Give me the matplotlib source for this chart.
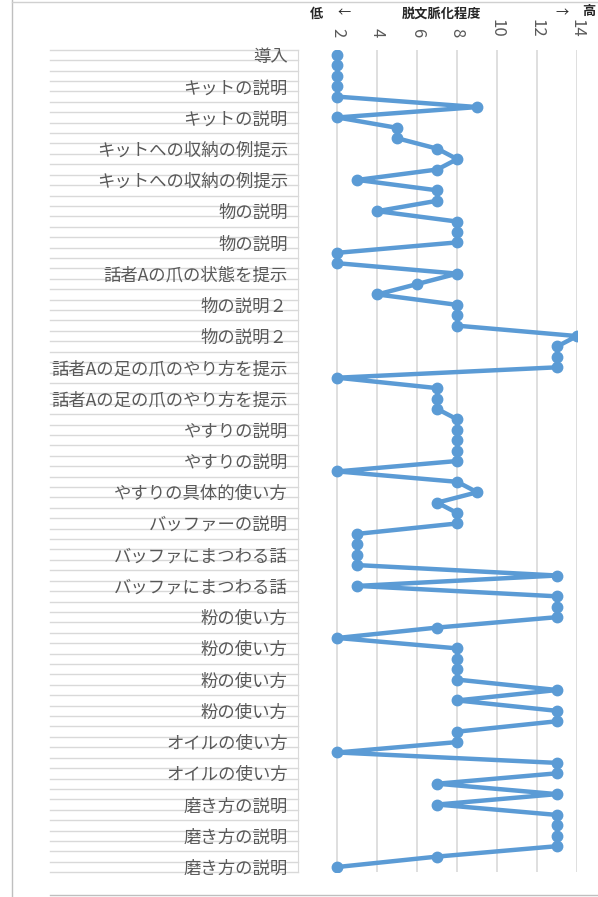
import numpy as np
import matplotlib
matplotlib.use('Agg')
import matplotlib.pyplot as plt
from matplotlib.lines import Line2D

plt.rcParams['font.family'] = ['Noto Sans CJK JP', 'DejaVu Sans']

# 脱文脈化程度 for each utterance (top to bottom)
values = [2, 2, 2, 2, 2, 9, 2, 5, 5, 7,
          8, 7, 3, 7, 7, 4, 8, 8, 8, 2,
          2, 8, 6, 4, 8, 8, 8, 14, 13, 13,
          13, 2, 7, 7, 7, 8, 8, 8, 8, 8,
          2, 8, 9, 7, 8, 8, 3, 3, 3, 3,
          13, 3, 13, 13, 13, 7, 2, 8, 8, 8,
          8, 13, 8, 13, 13, 8, 8, 2, 13, 13,
          7, 13, 7, 13, 13, 13, 13, 7, 2]

# category labels, shown on every 3rd utterance
labels = ['導入', 'キットの説明', 'キットの説明', 'キットへの収納の例提示',
          'キットへの収納の例提示', '物の説明', '物の説明', '話者Aの爪の状態を提示',
          '物の説明２', '物の説明２', '話者Aの足の爪のやり方を提示',
          '話者Aの足の爪のやり方を提示', 'やすりの説明', 'やすりの説明',
          'やすりの具体的使い方', 'バッファーの説明', 'バッファにまつわる話',
          'バッファにまつわる話', '粉の使い方', '粉の使い方', '粉の使い方',
          '粉の使い方', 'オイルの使い方', 'オイルの使い方', '磨き方の説明',
          '磨き方の説明', '磨き方の説明']
x_ticks = [2, 4, 6, 8, 10, 12, 14]

W, H = 598, 897
fig = plt.figure(figsize=(W / 100, H / 100), dpi=100)
left, right, top, bottom = 297.5, 577, 49.8, 872.2
ax = fig.add_axes([left / W, 1 - bottom / H, (right - left) / W, (bottom - top) / H])

n = len(values)
ys = np.arange(n)
ax.plot(values, ys, color='#5B9BD5', lw=3.2, marker='o', ms=7.5,
        solid_joinstyle='round', zorder=3)

ax.set_xticks(x_ticks)
ax.xaxis.tick_top()
ax.grid(axis='x', color='#d9d9d9', lw=1.2)
ax.set_axisbelow(True)
ax.tick_params(axis='x', length=0, pad=9, labelsize=12,
               labelcolor='#595959', labelrotation=-90)

ax.set_yticks(ys[::3])
ax.set_yticklabels(labels)
ax.tick_params(axis='y', length=0, pad=7, labelsize=12.5, labelcolor='#595959')

for s in ['top', 'right', 'bottom']:
    ax.spines[s].set_visible(False)
ax.spines['left'].set_color('#d9d9d9')

# category separators in the label area
x0 = (50 - left) / (right - left)
for b in np.arange(-0.5, n, 1):
    ax.plot([x0, 0], [b, b], transform=ax.get_yaxis_transform(),
            color='#d9d9d9', lw=1, clip_on=False, zorder=0)
ax.set_xlim(0, 14)
ax.set_ylim(n - 0.5, -0.5)

# axis title with arrows
ty = 1 - 14 / H
fig.text(441 / W, ty, '脱文脈化程度', ha='center', va='center',
         fontsize=9.5, fontweight='bold', color='#262626')
fig.text(317 / W, ty, '低', ha='center', va='center', fontsize=9.5,
         fontweight='bold', color='#262626')
fig.text(344 / W, ty, '←', ha='center', va='center', fontsize=9.5, color='#262626')
fig.text(562 / W, ty, '→', ha='center', va='center', fontsize=9.5, color='#262626')
fig.text(589 / W, 1 - 11 / H, '高', ha='center', va='center', fontsize=9.5,
         fontweight='bold', color='#262626')

# outer frame
fig.add_artist(Line2D([12 / W, 12 / W], [0, 1], transform=fig.transFigure,
                      color='#bfbfbf', lw=1))
fig.add_artist(Line2D([12 / W, 1], [1 - 2 / H] * 2, transform=fig.transFigure,
                      color='#d0d0d0', lw=1))
fig.add_artist(Line2D([50 / W, 1], [1 - 895 / H] * 2, transform=fig.transFigure,
                      color='#bfbfbf', lw=1))

fig.savefig('out.png', dpi=100)
